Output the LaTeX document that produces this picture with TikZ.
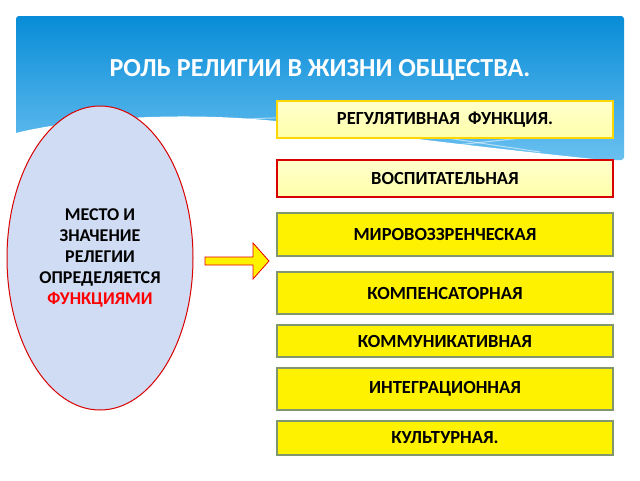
\documentclass[tikz,border=0pt]{standalone}
\usepackage{fontspec}
\setmainfont{Carlito}
\usetikzlibrary{shapes.geometric}
\definecolor{skytop}{RGB}{8,140,215}
\definecolor{skybot}{RGB}{105,192,240}
\definecolor{ovalfill}{RGB}{208,220,244}
\definecolor{paleyel}{RGB}{255,255,170}
\definecolor{boxline}{RGB}{130,150,110}
\tikzset{
  funcbox/.style={draw=boxline,line width=1.2pt,fill=yellow,minimum width=336pt,
    font=\bfseries\fontsize{18.5}{22}\selectfont,inner sep=0pt},
  palebox/.style={funcbox,top color=paleyel!60,bottom color=paleyel,middle color=paleyel!80},
  streak/.style={white,opacity=0.55,line width=1pt}
}
\begin{document}
\begin{tikzpicture}[x=1pt,y=-1pt]
\useasboundingbox (0,0) rectangle (640,480);
\fill[white] (0,0) rectangle (640,480);

% sky banner with its wavy lower edge
\shade[top color=skytop,bottom color=skybot,rounded corners=3pt] (16,16) rectangle (624,160);
\fill[white] (16,133) .. controls (80,117) and (200,110) .. (300,124)
  .. controls (420,140) and (560,156) .. (624,162) -- (624,170) -- (16,170) -- cycle;
\draw[streak] (200,124) .. controls (240,118) and (280,117) .. (330,118);
\draw[streak] (390,152) -- (560,134);
\draw[streak] (420,134) -- (540,152);
\node[text=white,font=\bfseries\fontsize{26}{30}\selectfont] (title) at (320,70) {РОЛЬ РЕЛИГИИ В ЖИЗНИ ОБЩЕСТВА.};

% the oval
\node[ellipse,draw=red!85!black,line width=1pt,fill=ovalfill,minimum width=186pt,minimum height=304pt,
  align=center,font=\bfseries\fontsize{18}{21}\selectfont] (place) at (100,258)
  {МЕСТО И\\ЗНАЧЕНИЕ\\РЕЛЕГИИ\\ОПРЕДЕЛЯЕТСЯ\\\textcolor{red}{ФУНКЦИЯМИ}};

% block arrow
\coordinate (arrow) at (205,261);
\filldraw[draw=red!90!black,fill=yellow,line width=0.8pt,line join=miter]
  (arrow) ++(0,-4) -- ++(48,0) -- ++(0,-14) -- (269,261) -- (253,279) -- ++(0,-14) -- (205,265) -- cycle;

% functions
\node[palebox,draw=yellow!75!orange,minimum height=37pt] (regul) at (445,119.5) {РЕГУЛЯТИВНАЯ\ \ ФУНКЦИЯ.};
\node[palebox,draw=red!85!black,minimum height=37pt] (vospit) at (445,178.5) {ВОСПИТАТЕЛЬНАЯ};
\node[funcbox,minimum height=43pt] (mirov) at (445,234.5) {МИРОВОЗЗРЕНЧЕСКАЯ};
\node[funcbox,minimum height=42pt] (kompens) at (445,293) {КОМПЕНСАТОРНАЯ};
\node[funcbox,minimum height=32pt] (kommun) at (445,341) {КОММУНИКАТИВНАЯ};
\node[funcbox,minimum height=42pt] (integr) at (445,389) {ИНТЕГРАЦИОННАЯ};
\node[funcbox,minimum height=34pt] (kult) at (445,438) {КУЛЬТУРНАЯ.};

\end{tikzpicture}
\end{document}
